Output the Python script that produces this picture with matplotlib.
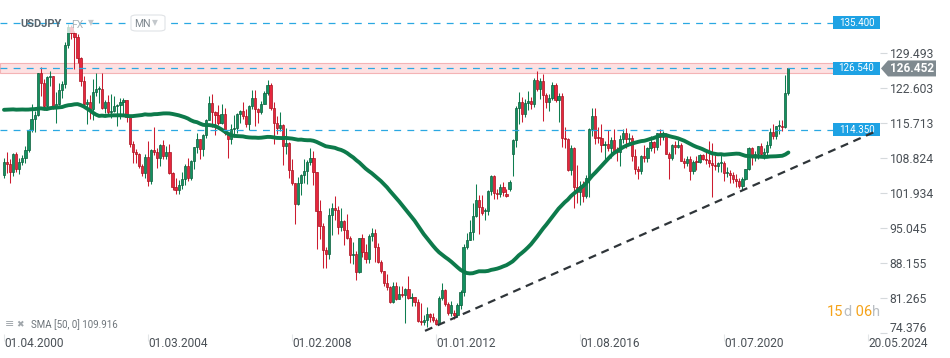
import numpy as np
import matplotlib
matplotlib.use("Agg")
import matplotlib.pyplot as plt
from matplotlib.patches import Rectangle, Polygon, FancyBboxPatch
from matplotlib.transforms import blended_transform_factory, ScaledTranslation

plt.rcParams['font.family'] = ['Roboto', 'DejaVu Sans']

# ---- data: USDJPY monthly candles (Apr 2000 .. Apr 2022, a few months absent in the feed)
symbol = "USDJPY"

# closes of the 49 months before the first visible candle (only used for the SMA)
pre_closes = [106.3, 104.5, 108.4, 109.6, 106.8, 108.4, 111.4, 114.0, 113.7, 115.8,
              121.2, 120.2, 124.0, 126.9, 116.3, 114.6, 118.5, 118.9, 120.6, 120.5, 127.6, 130.4,
              126.7, 126.8, 133.3, 132.7, 138.8, 138.5, 144.3, 141.4, 135.6, 116.0, 123.4, 113.6,
              116.3, 119.2, 118.7, 119.4, 121.5, 120.9, 114.6, 109.7, 106.1, 104.1, 102.1, 102.2,
              107.3, 110.3, 105.4]

opens = [
    105.4, 108.1, 107.7, 106.1, 109.6, 106.7, 108.0, 108.9, 110.4,
    114.4, 116.5, 117.3, 125.6, 123.6, 119.0, 124.7, 125.0, 118.9, 119.5, 122.3, 123.4,
    131.0, 134.7, 133.4, 132.7, 128.6, 124.0, 119.5, 119.9, 118.4, 121.9, 122.5, 122.5,
    118.7, 119.9, 117.9, 118.1, 119.0, 119.3, 119.8, 120.2, 116.8, 111.5, 110.1, 109.6,
    107.2, 105.9, 109.1, 104.2, 110.4, 110.1, 108.8, 111.3, 109.2, 110.1, 105.8, 103.1,
    102.6, 103.6, 104.6, 107.2, 104.9, 108.2, 110.9, 112.5, 110.6, 113.3, 116.4, 119.6,
    117.8, 117.2, 115.8, 117.5, 113.8, 112.5, 114.5, 114.7, 117.4, 118.1, 117.0, 115.5,
    119.0, 120.7, 118.5, 117.8, 119.5, 121.7, 123.2, 118.6, 115.8, 114.8, 115.4, 111.1,
    111.7, 106.4, 103.9, 99.7, 104.0, 105.5, 106.2, 108.0, 108.8, 106.0, 98.4, 95.5,
    90.7, 89.9, 97.6, 98.9, 98.5, 95.3, 96.4, 94.7, 93.1, 89.7, 90.0, 86.3,
    93.0, 90.3, 88.9, 93.5, 94.0, 91.3, 88.4, 86.5, 84.2, 83.5, 80.4, 83.7,
    81.1, 82.0, 81.8, 83.1, 81.2, 81.5, 80.5, 76.8, 76.6, 77.0, 78.2, 77.6,
    76.9, 76.2, 81.2, 82.9, 80.0, 78.3, 78.4, 77.9, 79.8,
    82.5, 91.3, 92.6, 94.2, 97.5, 100.5, 99.1, 98.3, 98.4, 102.4,
    105.3, 102.0, 101.8, 103.2, 101.8, 102.8, 109.7, 112.3, 118.6,
    119.8, 117.5, 119.6, 120.1, 119.4, 124.1, 122.5, 123.9, 121.2, 119.9, 120.6, 123.1,
    120.2, 121.1, 112.7, 112.6, 106.5, 110.7, 103.2, 102.1, 103.4, 101.3, 104.8, 114.5,
    117.0, 112.8, 112.7, 111.4, 111.5, 110.8, 112.4, 110.3, 110.0, 112.5, 113.7, 112.5,
    112.7, 109.2, 106.7, 106.3, 109.3, 108.8, 110.7, 111.9, 111.0, 113.7, 112.9, 113.5,
    109.7, 108.9, 111.4, 110.9, 111.4, 108.3, 107.9, 108.6, 106.3, 108.1, 108.0, 109.5,
    108.6, 108.4, 107.9, 107.5, 107.2, 107.8, 107.9, 105.9, 105.9, 105.5, 104.7, 104.3,
    103.3, 104.7, 106.6, 110.7, 109.3, 109.6, 111.1, 109.7, 110.0, 111.3, 113.9, 113.2,
    115.1, 115.1, 115.0, 121.7,
]
highs = [
    108.8, 110.0, 108.6, 109.9, 110.0, 108.8, 109.4, 111.1, 114.6,
    119.4, 118.0, 125.6, 126.8, 124.4, 125.0, 126.0, 125.0, 121.8, 123.6, 124.0, 131.7,
    135.2, 135.0, 133.9, 133.2, 128.8, 125.0, 120.5, 121.2, 124.3, 125.6, 123.0, 125.5,
    120.3, 121.3, 121.5, 121.1, 119.5, 120.6, 120.6, 120.2, 117.3, 112.1, 110.5, 109.9,
    107.7, 109.6, 112.2, 110.6, 114.9, 110.7, 111.6, 112.3, 111.2, 111.5, 106.0, 104.8,
    104.4, 106.0, 107.6, 108.8, 108.4, 110.9, 113.7, 112.6, 113.5, 116.5, 121.1, 121.4,
    118.0, 119.2, 119.4, 118.6, 113.9, 115.5, 117.3, 117.6, 118.3, 119.9, 118.5, 119.3,
    122.2, 122.2, 118.6, 120.1, 122.1, 124.1, 123.5, 119.8, 117.0, 117.9, 115.6, 114.7,
    111.9, 108.7, 104.0, 105.0, 105.6, 108.6, 108.5, 110.7, 110.3, 106.1, 100.6, 96.1,
    91.4, 98.9, 99.9, 101.4, 99.4, 98.9, 96.6, 97.8, 93.4, 92.3, 90.6, 93.1,
    93.8, 91.9, 93.8, 95.0, 94.9, 92.1, 88.8, 86.6, 85.9, 83.7, 84.4, 84.5,
    83.7, 83.7, 83.3, 85.5, 82.2, 81.5, 81.1, 80.2, 77.9, 79.5, 78.3, 78.3,
    77.4, 81.7, 84.2, 83.0, 80.5, 80.6, 78.9, 80.2, 82.8,
    91.8, 94.1, 96.7, 99.9, 103.7, 101.5, 101.5, 99.0, 102.6, 105.4,
    105.4, 102.8, 103.8, 104.1, 102.8, 104.5, 112.5, 119.0, 121.8,
    120.8, 120.5, 122.0, 120.8, 124.5, 125.9, 124.6, 125.3, 121.7, 121.5, 123.8, 123.6,
    121.7, 121.7, 114.9, 112.7, 111.4, 110.9, 107.5, 104.3, 104.3, 105.5, 114.8, 118.7,
    118.6, 115.0, 115.5, 112.2, 114.4, 112.9, 114.5, 111.0, 113.3, 114.5, 114.7, 113.8,
    113.4, 110.5, 107.3, 109.5, 111.4, 110.9, 113.2, 112.2, 113.7, 114.6, 114.2, 113.8,
    110.0, 111.5, 112.1, 112.4, 111.7, 108.8, 109.3, 109.3, 108.5, 109.3, 109.7, 109.7,
    110.3, 112.2, 111.7, 109.4, 108.1, 109.9, 108.2, 107.1, 106.5, 106.1, 105.7, 104.8,
    105.0, 106.7, 111.0, 111.0, 110.2, 111.1, 111.7, 110.8, 112.1, 114.7, 115.5, 115.2,
    116.4, 116.3, 125.1, 126.6,
]
lows = [
    104.8, 105.9, 103.9, 105.3, 106.0, 105.7, 107.5, 107.9, 110.0,
    113.9, 114.0, 117.0, 121.0, 118.3, 118.6, 122.9, 118.4, 115.8, 119.3, 120.6, 122.7,
    130.4, 132.2, 126.4, 127.5, 122.9, 119.3, 115.5, 116.5, 116.4, 121.0, 119.6, 118.5,
    117.6, 117.2, 116.7, 117.9, 115.2, 116.5, 117.4, 116.0, 110.9, 107.9, 107.9, 106.8,
    105.2, 104.9, 103.4, 103.8, 109.5, 106.8, 107.3, 108.6, 108.6, 105.7, 102.5, 101.8,
    101.7, 102.7, 103.6, 104.2, 104.4, 106.6, 109.9, 108.7, 109.3, 112.8, 116.3, 115.0,
    113.4, 115.4, 115.5, 113.3, 108.9, 111.6, 113.0, 113.7, 115.7, 116.5, 114.9, 114.4,
    118.4, 115.2, 115.8, 117.4, 119.4, 121.3, 118.2, 111.6, 113.6, 114.2, 107.4, 109.7,
    104.9, 103.5, 95.8, 99.5, 101.6, 103.9, 103.8, 107.4, 103.5, 90.9, 92.8, 87.2,
    87.1, 88.9, 93.6, 96.6, 93.9, 94.5, 91.7, 92.8, 88.2, 88.0, 84.8, 86.2,
    89.4, 88.1, 88.2, 92.5, 88.3, 88.1, 86.2, 83.6, 82.9, 80.2, 80.3, 80.9,
    81.0, 81.5, 76.3, 81.0, 79.6, 79.7, 76.6, 75.9, 75.9, 75.6, 76.6, 76.6,
    75.9, 76.1, 80.9, 79.7, 78.0, 77.7, 77.1, 77.6, 79.1,
    81.7, 90.9, 92.6, 92.6, 97.3, 93.8, 97.6, 96.6, 97.6, 101.6,
    100.8, 100.8, 101.2, 101.4, 101.2, 102.4, 105.2, 111.0, 115.6,
    115.9, 116.9, 118.3, 118.5, 118.9, 122.1, 120.4, 116.2, 118.6, 118.1, 120.2, 119.9,
    115.9, 111.0, 110.7, 106.3, 105.5, 99.0, 100.0, 99.5, 100.1, 100.9, 101.2, 113.1,
    111.6, 111.7, 110.1, 108.1, 110.2, 108.8, 110.6, 108.3, 107.3, 111.7, 110.8, 111.4,
    108.3, 105.6, 104.6, 105.7, 108.1, 108.1, 110.3, 109.8, 110.4, 111.4, 112.3, 109.6,
    104.7, 108.5, 109.7, 110.8, 108.3, 106.8, 107.2, 104.5, 105.7, 106.5, 107.9, 108.4,
    107.6, 107.0, 101.2, 106.4, 106.0, 106.1, 104.2, 105.1, 104.0, 104.0, 103.2, 102.9,
    102.6, 104.4, 106.4, 107.5, 108.3, 108.6, 109.1, 108.7, 109.1, 110.8, 112.5, 112.6,
    113.5, 114.2, 114.7, 121.3,
]
closes = [
    108.1, 107.7, 106.1, 109.6, 106.7, 108.0, 108.9, 110.4, 114.4,
    116.5, 117.3, 125.6, 123.6, 119.0, 124.7, 125.0, 118.9, 119.5, 122.3, 123.4, 131.0,
    134.7, 133.4, 132.7, 128.6, 124.0, 119.5, 119.9, 118.4, 121.9, 122.5, 122.5, 118.7,
    119.9, 117.9, 118.1, 119.0, 119.3, 119.8, 120.2, 116.8, 111.5, 110.1, 109.6, 107.2,
    105.9, 109.1, 104.2, 110.4, 110.1, 108.8, 111.3, 109.2, 110.1, 105.8, 103.1, 102.6,
    103.6, 104.6, 107.2, 104.9, 108.2, 110.9, 112.5, 110.6, 113.3, 116.4, 119.6, 117.8,
    117.2, 115.8, 117.5, 113.8, 112.5, 114.5, 114.7, 117.4, 118.1, 117.0, 115.5, 119.0,
    120.7, 118.5, 117.8, 119.5, 121.7, 123.2, 118.6, 115.8, 114.8, 115.4, 111.1, 111.7,
    106.4, 103.9, 99.7, 104.0, 105.5, 106.2, 108.0, 108.8, 106.0, 98.4, 95.5, 90.7,
    89.9, 97.6, 98.9, 98.5, 95.3, 96.4, 94.7, 93.1, 89.7, 90.0, 86.3, 93.0,
    90.3, 88.9, 93.5, 94.0, 91.3, 88.4, 86.5, 84.2, 83.5, 80.4, 83.7, 81.1,
    82.0, 81.8, 83.1, 81.2, 81.5, 80.5, 76.8, 76.6, 77.0, 78.2, 77.6, 76.9,
    76.2, 81.2, 82.9, 80.0, 78.3, 79.8, 77.9, 79.8, 82.5,
    91.3, 92.6, 94.2, 97.5, 100.5, 99.1, 97.9, 98.4, 102.4, 105.3,
    102.0, 101.8, 103.2, 102.2, 101.3, 104.1, 112.3, 118.6, 119.8,
    117.5, 119.6, 120.1, 119.4, 124.1, 122.5, 123.9, 121.2, 119.9, 120.6, 123.1, 120.2,
    121.1, 112.7, 112.6, 106.5, 110.7, 103.2, 102.1, 103.4, 101.3, 104.8, 114.5, 117.0,
    112.8, 112.7, 111.4, 111.5, 110.8, 112.4, 110.3, 110.0, 112.5, 113.7, 112.5, 112.7,
    109.2, 106.7, 106.3, 109.3, 108.8, 110.7, 111.9, 111.0, 113.7, 112.9, 113.5, 109.7,
    108.9, 111.4, 110.9, 111.4, 108.3, 107.9, 108.6, 106.3, 108.1, 108.0, 109.5, 108.6,
    108.4, 107.9, 107.5, 107.2, 107.8, 107.9, 105.9, 105.9, 105.5, 104.7, 104.3, 103.3,
    104.7, 106.6, 110.7, 109.3, 109.6, 111.1, 109.7, 110.0, 111.3, 113.9, 113.2, 115.1,
    115.1, 115.0, 121.7, 126.452,
]

x_tick_idx = [0, 47, 94, 141, 188, 235, 282]
x_tick_labels = ["01.04.2000", "01.03.2004", "01.02.2008", "01.01.2012",
                 "01.08.2016", "01.07.2020", "20.05.2024"]
y_ticks = [74.376, 81.265, 88.155, 95.045, 101.934, 108.824, 115.713, 122.603, 129.493]

levels = [135.400, 126.540, 114.350]      # horizontal lines drawn on the chart
zone = [125.6, 127.5]                     # resistance zone around 126.54
trend_x = [137.4, 285.0]                  # support trend line (candle index, price)
trend_y = [74.8, 114.2]
sma_period = 50
sma_text = "SMA [50, 0] 109.916"
countdown = [("15", "#f5a31a"), ("d", "#b9bec3"), (" 06", "#f5a31a"), ("h", "#b9bec3")]

o = np.array(opens); h = np.array(highs); l = np.array(lows); c = np.array(closes)
assert len(o) == len(h) == len(l) == len(c)
idx = np.arange(len(c))

all_c = np.array(pre_closes + closes)
sma = np.convolve(all_c, np.ones(sma_period) / sma_period, mode="valid")

# ---- figure
W, H = 950, 358
fig = plt.figure(figsize=(W / 100, H / 100), dpi=100)
fig.patch.set_facecolor("white")
ax = fig.add_axes([0, 24 / H, 880 / W, 334 / H])
ax.set_xlim(-1.3055, 285.9)
ax.set_ylim(74.18, 139.926)
for s in ax.spines.values():
    s.set_visible(False)

# zone + horizontal levels
ax.axhspan(zone[0], zone[1], facecolor="#fde1e2", edgecolor="#f4b3b5", lw=0.8, zorder=1)
for lv in levels:
    ax.axhline(lv, color="#2aa8e2", lw=0.9, dashes=(5.5, 5), zorder=4)

# candles
up = c >= o
wick_col = np.where(up, "#0e7d50", "#cc1c30")
body_col = np.where(up, "#129160", "#e6263d")
edge_col = np.where(up, "#0a5c3a", "#a8121f")
ax.vlines(idx, l, h, colors=wick_col, lw=0.75, zorder=2)
ax.bar(idx, np.maximum(np.abs(c - o), 0.2), bottom=np.minimum(o, c), width=0.72,
       color=body_col, edgecolor=edge_col, lw=0.5, zorder=2.5)

# SMA 50
ax.plot(idx, sma, color="#0d7a4b", lw=2.8, solid_capstyle="round", zorder=3.5)

# trend line
ax.plot(trend_x, trend_y, color="#2f3539", lw=1.6, dashes=(3.6, 2.6), zorder=6)

# pale veil behind the header
ax.add_patch(Rectangle((0, (334 - 33) / 334), 175 / 880, 25 / 334, transform=ax.transAxes,
                       facecolor="white", alpha=0.75, lw=0, zorder=3.8))

# level labels
bt = blended_transform_factory(ax.transAxes, ax.transData)
upp = 334 / (139.926 - 74.18)  # pixels per price unit
for lv in levels:
    ax.add_patch(Rectangle((833 / 880, lv - 6.5 / upp), 47 / 880, 13 / upp, transform=bt,
                           facecolor="#1ea2e4", lw=0, zorder=5, clip_on=False))
    ax.text(856.5 / 880, lv, f"{lv:.3f}", transform=bt, ha="center", va="center",
            color="white", fontsize=7, zorder=5.5)

# last price label
last = c[-1]
hh = 8 / upp
ax.add_patch(Polygon([(881 / 880, last), (888 / 880, last + hh), (936 / 880, last + hh),
                      (936 / 880, last - hh), (888 / 880, last - hh)], closed=True,
                     transform=bt, facecolor="#7f8a90", lw=0, zorder=7, clip_on=False))
ax.text(912 / 880, last, f"{last:.3f}", transform=bt, ha="center", va="center",
        color="white", fontsize=8.5, fontweight="bold", zorder=8, clip_on=False)

# axes ticks
ax.yaxis.tick_right()
ax.set_yticks(y_ticks)
ax.set_yticklabels([f"{v:.3f}" for v in y_ticks])
ax.tick_params(axis="y", length=5, width=0.8, color="#d5d9dc", pad=2,
               labelsize=8.7, labelcolor="#4a5056")
for t in ax.get_yticklabels():
    if t.get_text() == "74.376":
        t.set_transform(t.get_transform() + ScaledTranslation(0, 0.06, fig.dpi_scale_trans))
ax.set_xticks(x_tick_idx)
ax.set_xticklabels(x_tick_labels, ha="left")
ax.tick_params(axis="x", length=5, width=0.8, color="#e3e6e8", pad=-3,
               labelsize=8.6, labelcolor="#4a5056")


def ftext(x, y, s, **kw):
    return fig.text(x / W, 1 - y / H, s, va="center", ha="left", **kw)


def pieces(x, y, parts, size):
    r = fig.canvas.get_renderer()
    for s, col in parts:
        t = ftext(x, y, s, color=col, fontsize=size)
        x += t.get_window_extent(r).width


# header
ftext(20, 24, symbol, color="#58636b", fontsize=8, fontweight="bold")
ftext(71, 24.5, "FX", color="#a9b0b6", fontsize=7.5)
ftext(88, 23, "\u25BC", color="#c3c8cc", fontsize=5.5)
fig.patches.append(FancyBboxPatch((131 / W, 1 - 31 / H), 34 / W, 16 / H,
                                  boxstyle="round,pad=0,rounding_size=0.006",
                                  transform=fig.transFigure, facecolor="white",
                                  edgecolor="#e0e3e6", lw=0.8))
ftext(134.5, 24, "MN", color="#7e878e", fontsize=7.5)
ftext(152, 23, "\u25BC", color="#c3c8cc", fontsize=5.5)

# SMA legend
ftext(5, 324.5, "\u2261", color="#a0a6ab", fontsize=8)
ftext(16, 324.5, "\u2716", color="#a0a6ab", fontsize=6.5)
ftext(31, 325, sma_text, color="#6d747a", fontsize=7)

# candle countdown
pieces(827, 312, countdown, 10.5)

fig.savefig("out.png", dpi=100, facecolor="white")
